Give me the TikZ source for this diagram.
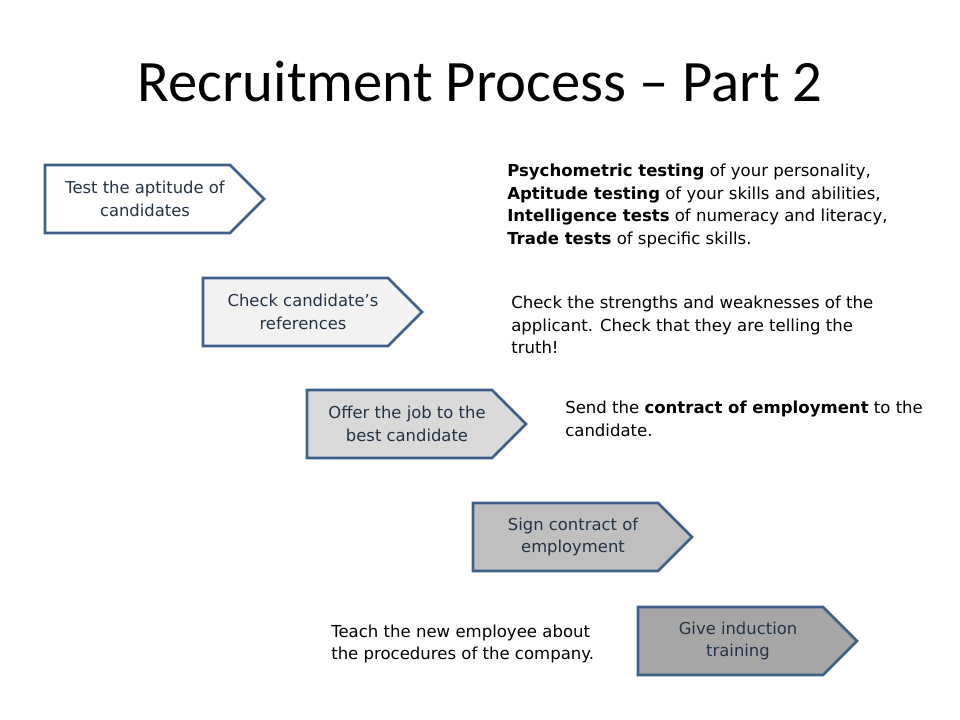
\documentclass[tikz,border=0pt]{standalone}
\usepackage{fontspec}
\setmainfont{DejaVu Sans}
\newfontfamily\titlefont{Carlito}
\usepackage{tikz}
\definecolor{stepborder}{HTML}{3E5F8A}
\definecolor{steptextcolor}{HTML}{243447}
\definecolor{shadeB}{HTML}{F2F2F2}
\definecolor{shadeC}{HTML}{D9D9D9}
\definecolor{shadeD}{HTML}{BFBFBF}
\definecolor{shadeE}{HTML}{A6A6A6}

\begin{document}
\begin{tikzpicture}[x=0.75pt, y=-0.75pt,
    stepline/.style={draw=stepborder, line width=2pt, line join=miter},
    steptext/.style={align=center, inner sep=0pt, text=steptextcolor,
        font=\fontsize{12.3}{17}\selectfont},
    notetext/.style={align=left, anchor=west, inner sep=0pt,
        font=\fontsize{12.4}{17}\selectfont}]
    \useasboundingbox (0,0) rectangle (960,720);

    \node[font=\titlefont\fontsize{44}{53}\selectfont, anchor=base] (title) at (480,102) {Recruitment Process – Part 2};

    \foreach \name/\x/\y/\shade/\txt in {
        aptitude/145/199/white/{Test the aptitude of\\candidates},
        references/303/312/shadeB/{Check candidate’s\\references},
        offer/407/424/shadeC/{Offer the job to the\\best candidate},
        contract/573/537/shadeD/{Sign contract of\\employment},
        induction/738/641/shadeE/{Give induction\\training}}{
        \draw[stepline, fill=\shade] (\x-100,\y-34) -- (\x+85,\y-34) -- (\x+119,\y)
            -- (\x+85,\y+34) -- (\x-100,\y+34) -- cycle;
        \node[steptext] (\name) at (\x,\y) {\txt};
    }

    \node[notetext] (testsnote) at (507,206) {\textbf{Psychometric testing} of your personality,\\
        \textbf{Aptitude testing} of your skills and abilities,\\
        \textbf{Intelligence tests} of numeracy and literacy,\\
        \textbf{Trade tests} of specific skills.};
    \node[notetext] (refnote) at (511,325) {Check the strengths and weaknesses of the\\
        applicant. Check that they are telling the\\truth!};
    \node[notetext] (offernote) at (565,419) {Send the \textbf{contract of employment} to the\\candidate.};
    \node[notetext] (inductionnote) at (331,644) {Teach the new employee about\\the procedures of the company.};
\end{tikzpicture}
\end{document}
